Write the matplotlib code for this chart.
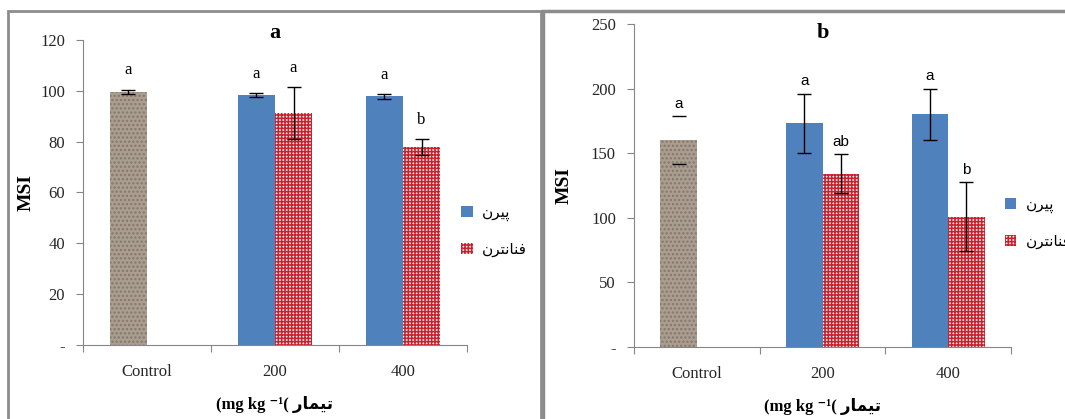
import numpy as np
import matplotlib.pyplot as plt
from matplotlib.patches import Rectangle, Patch

# Persian labels, pre-shaped (presentation forms, visual order) since matplotlib does no RTL shaping
lbl_pyrene = "\uFEE5\uFEAE\uFBFF\uFB58"                    # پیرن
lbl_phen = "\uFEE5\uFEAE\uFE98\uFEE7\uFE8E\uFEE8\uFED3"    # فنانترن
lbl_treat = "\uFEAD\uFE8E\uFEE4\uFBFF\uFE97"               # تیمار

categories = ['Control', '200', '400']

# panel a
a_control = 99.7
a_control_err = 0.8
a_pyrene = [98.3, 97.8]
a_pyrene_err = [0.85, 1.0]
a_phen = [91.2, 77.8]
a_phen_err = [10.3, 3.2]
a_letters_control = 'a'
a_letters_pyr = ['a', 'a']
a_letters_phen = ['a', 'b']

# panel b
b_control = 160
b_control_err = 18.5
b_pyrene = [173, 180]
b_pyrene_err = [23, 20]
b_phen = [134, 101]
b_phen_err = [15, 26.5]
b_letters_control = 'a'
b_letters_pyr = ['a', 'a']
b_letters_phen = ['ab', 'b']

serif = ['Liberation Serif', 'DejaVu Sans']
gray = '#868686'
blue = '#4f81bd'
red = '#c8202c'
stone = '#aa9e91'
w = 0.29
checker = '+' * 5

plt.rcParams['hatch.linewidth'] = 1.1

fig = plt.figure(figsize=(10.65, 4.19), dpi=100)

# panel frames
fig.patches.append(Rectangle((8/1065, -0.1), 533/1065, 1 - 11/419 + 0.1, transform=fig.transFigure,
                             fill=False, edgecolor='#8c8c8c', linewidth=2))
fig.patches.append(Rectangle((543/1065, -0.1), 0.6, 1 - 11/419 + 0.1, transform=fig.transFigure,
                             fill=False, edgecolor='#8c8c8c', linewidth=2.5))


def panel(rect, title, title_y, ymax, ystep, control, control_err, pyr, pyr_err, phen, phen_err,
          let_c, let_p, let_f, cap_line, letfont, letsize, letoff, leg_anchor, ylab_x):
    ax = fig.add_axes(rect)
    x = np.arange(len(categories))
    # control bar with stone-like texture
    ax.bar(x[0] - w / 2, control, w, facecolor=stone, edgecolor='#85786a', hatch='....', linewidth=0)
    ax.errorbar(x[0] - w / 2, control, yerr=control_err, fmt='none', ecolor='black',
                capsize=5, elinewidth=cap_line, capthick=1)
    ax.bar(x[1:] - w / 2, pyr, w, color=blue, linewidth=0)
    ax.bar(x[1:] + w / 2, phen, w, facecolor='#fbecec', edgecolor=red, hatch=checker, linewidth=0)
    ax.errorbar(x[1:] - w / 2, pyr, yerr=pyr_err, fmt='none', ecolor='black', capsize=5,
                elinewidth=1, capthick=1)
    ax.errorbar(x[1:] + w / 2, phen, yerr=phen_err, fmt='none', ecolor='black', capsize=5,
                elinewidth=1, capthick=1)

    # significance letters
    kw = dict(textcoords='offset points', ha='center', va='bottom', fontsize=letsize, family=letfont)
    ax.annotate(let_c, (x[0] - w / 2, control + control_err), xytext=(0, letoff), **kw)
    for i in range(2):
        ax.annotate(let_p[i], (x[i + 1] - w / 2, pyr[i] + pyr_err[i]), xytext=(0, letoff), **kw)
        ax.annotate(let_f[i], (x[i + 1] + w / 2, phen[i] + phen_err[i]), xytext=(0, letoff), **kw)

    ax.set_xlim(-0.5, 2.5)
    ax.set_ylim(0, ymax)
    yt = np.arange(0, ymax + 1, ystep)
    ax.set_yticks(yt)
    ax.set_yticklabels(['-'] + [str(v) for v in yt[1:]], family=serif, fontsize=12, color='#262626')
    ax.set_xticks([-0.5, 0.5, 1.5, 2.5])
    ax.set_xticklabels([])
    ax.set_xticks(x, minor=True)
    ax.set_xticklabels(categories, minor=True, family=serif, fontsize=12, color='#262626')
    ax.tick_params(axis='x', which='major', length=5, color=gray, direction='out')
    ax.tick_params(axis='x', which='minor', length=0, pad=14)
    ax.tick_params(axis='y', length=5, color=gray, pad=8)
    for s in ['top', 'right']:
        ax.spines[s].set_visible(False)
    for s in ['left', 'bottom']:
        ax.spines[s].set_color(gray)

    ax.text(0.5, title_y, title, transform=ax.transAxes, ha='center', va='center',
            fontsize=16, fontweight='bold', family=serif)
    ax.set_ylabel('MSI', family=serif, fontsize=14, fontweight='bold')
    ax.yaxis.set_label_coords(ylab_x, 0.5)
    ax.set_xlabel('(mg kg \u207B\u00B9( ' + lbl_treat, family=serif, fontsize=12,
                  fontweight='bold', labelpad=11)

    handles = [Patch(facecolor=blue, linewidth=0),
               Patch(facecolor='#fbecec', edgecolor=red, hatch=checker, linewidth=0)]
    ax.legend(handles, [lbl_pyrene, lbl_phen], loc='center left', bbox_to_anchor=leg_anchor,
              frameon=False, handlelength=0.75, handleheight=0.75, handletextpad=0.6,
              labelspacing=1.4, borderpad=0, borderaxespad=0,
              prop={'family': 'DejaVu Sans', 'size': 11})
    return ax


panel([83/1065, 74/419, 384/1065, 305/419], 'a', 1.023, 120, 20,
      a_control, a_control_err, a_pyrene, a_pyrene_err, a_phen, a_phen_err,
      a_letters_control, a_letters_pyr, a_letters_phen, 1, serif, 12, 8, (0.985, 0.374), -0.125)
panel([634/1065, 72/419, 377/1065, 323/419], 'b', 0.972, 250, 50,
      b_control, b_control_err, b_pyrene, b_pyrene_err, b_phen, b_phen_err,
      b_letters_control, b_letters_pyr, b_letters_phen, 0, ['Liberation Sans'], 11, 4,
      (0.984, 0.384), -0.164)

fig.savefig('out.png', dpi=100)
